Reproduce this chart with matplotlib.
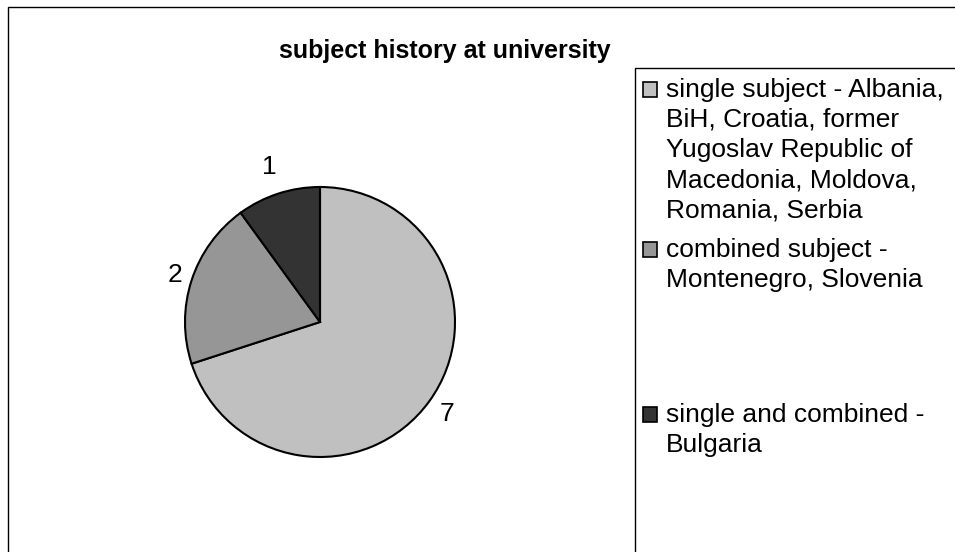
import matplotlib
matplotlib.use('Agg')
import numpy as np
import matplotlib.pyplot as plt
from matplotlib.patches import Rectangle

plt.rcParams['font.family'] = ['Liberation Sans', 'DejaVu Sans']

title = 'subject history at university'
counts = [7, 2, 1]
labels = ['single subject - Albania,\nBiH, Croatia, former\nYugoslav Republic of\nMacedonia, Moldova,\nRomania, Serbia',
          'combined subject -\nMontenegro, Slovenia',
          'single and combined -\nBulgaria']
colors = ['#c0c0c0', '#969696', '#333333']

W, H = 955, 552
fig = plt.figure(figsize=(W / 100, H / 100), dpi=100)

def px(x, y):
    # pixel coords (top-left origin) -> figure fraction
    return x / W, 1 - y / H

# outer chart frame
fig.add_artist(Rectangle(px(8, 560), (W + 10) / W, (560 - 7) / H, transform=fig.transFigure,
                         fill=False, edgecolor='#000000', linewidth=1.0))

# pie, centred at (320, 322) px with radius 135 px
r, half = 135, 150
ax = fig.add_axes([(320 - half) / W, (H - 322 - half) / H, 2 * half / W, 2 * half / H])
wedges, texts = ax.pie(counts, labels=[str(c) for c in counts], colors=colors,
                       startangle=90, counterclock=False,
                       wedgeprops=dict(edgecolor='black', linewidth=1.5),
                       textprops=dict(fontsize=19))
# value labels sit just outside each slice
label_dist = [1.16, 1.13, 1.21]
for w, t, d in zip(wedges, texts, label_dist):
    mid = np.deg2rad((w.theta1 + w.theta2) / 2)
    t.set_position((d * np.cos(mid), d * np.sin(mid)))
    t.set_ha('center')
    t.set_va('center')
lim = half / r
ax.set_xlim(-lim, lim)
ax.set_ylim(-lim, lim)
ax.axis('off')

fig.text(*px(445, 58), title, ha='center', va='baseline', fontsize=18, fontweight='bold')

# legend box
fig.add_artist(Rectangle(px(635, 560), (W + 10 - 635) / W, (560 - 68) / H, transform=fig.transFigure,
                         fill=False, edgecolor='#000000', linewidth=1.0))
first_baselines = [97, 257, 422]
line_step = 30
for base, lab, col in zip(first_baselines, labels, colors):
    fig.add_artist(Rectangle(px(643, base), 14 / W, 15 / H, transform=fig.transFigure,
                             facecolor=col, edgecolor='black', linewidth=1.2))
    for i, line in enumerate(lab.split('\n')):
        fig.text(*px(666, base + i * line_step), line, ha='left', va='baseline', fontsize=19)

fig.savefig('out.png', dpi=100, facecolor='white')
